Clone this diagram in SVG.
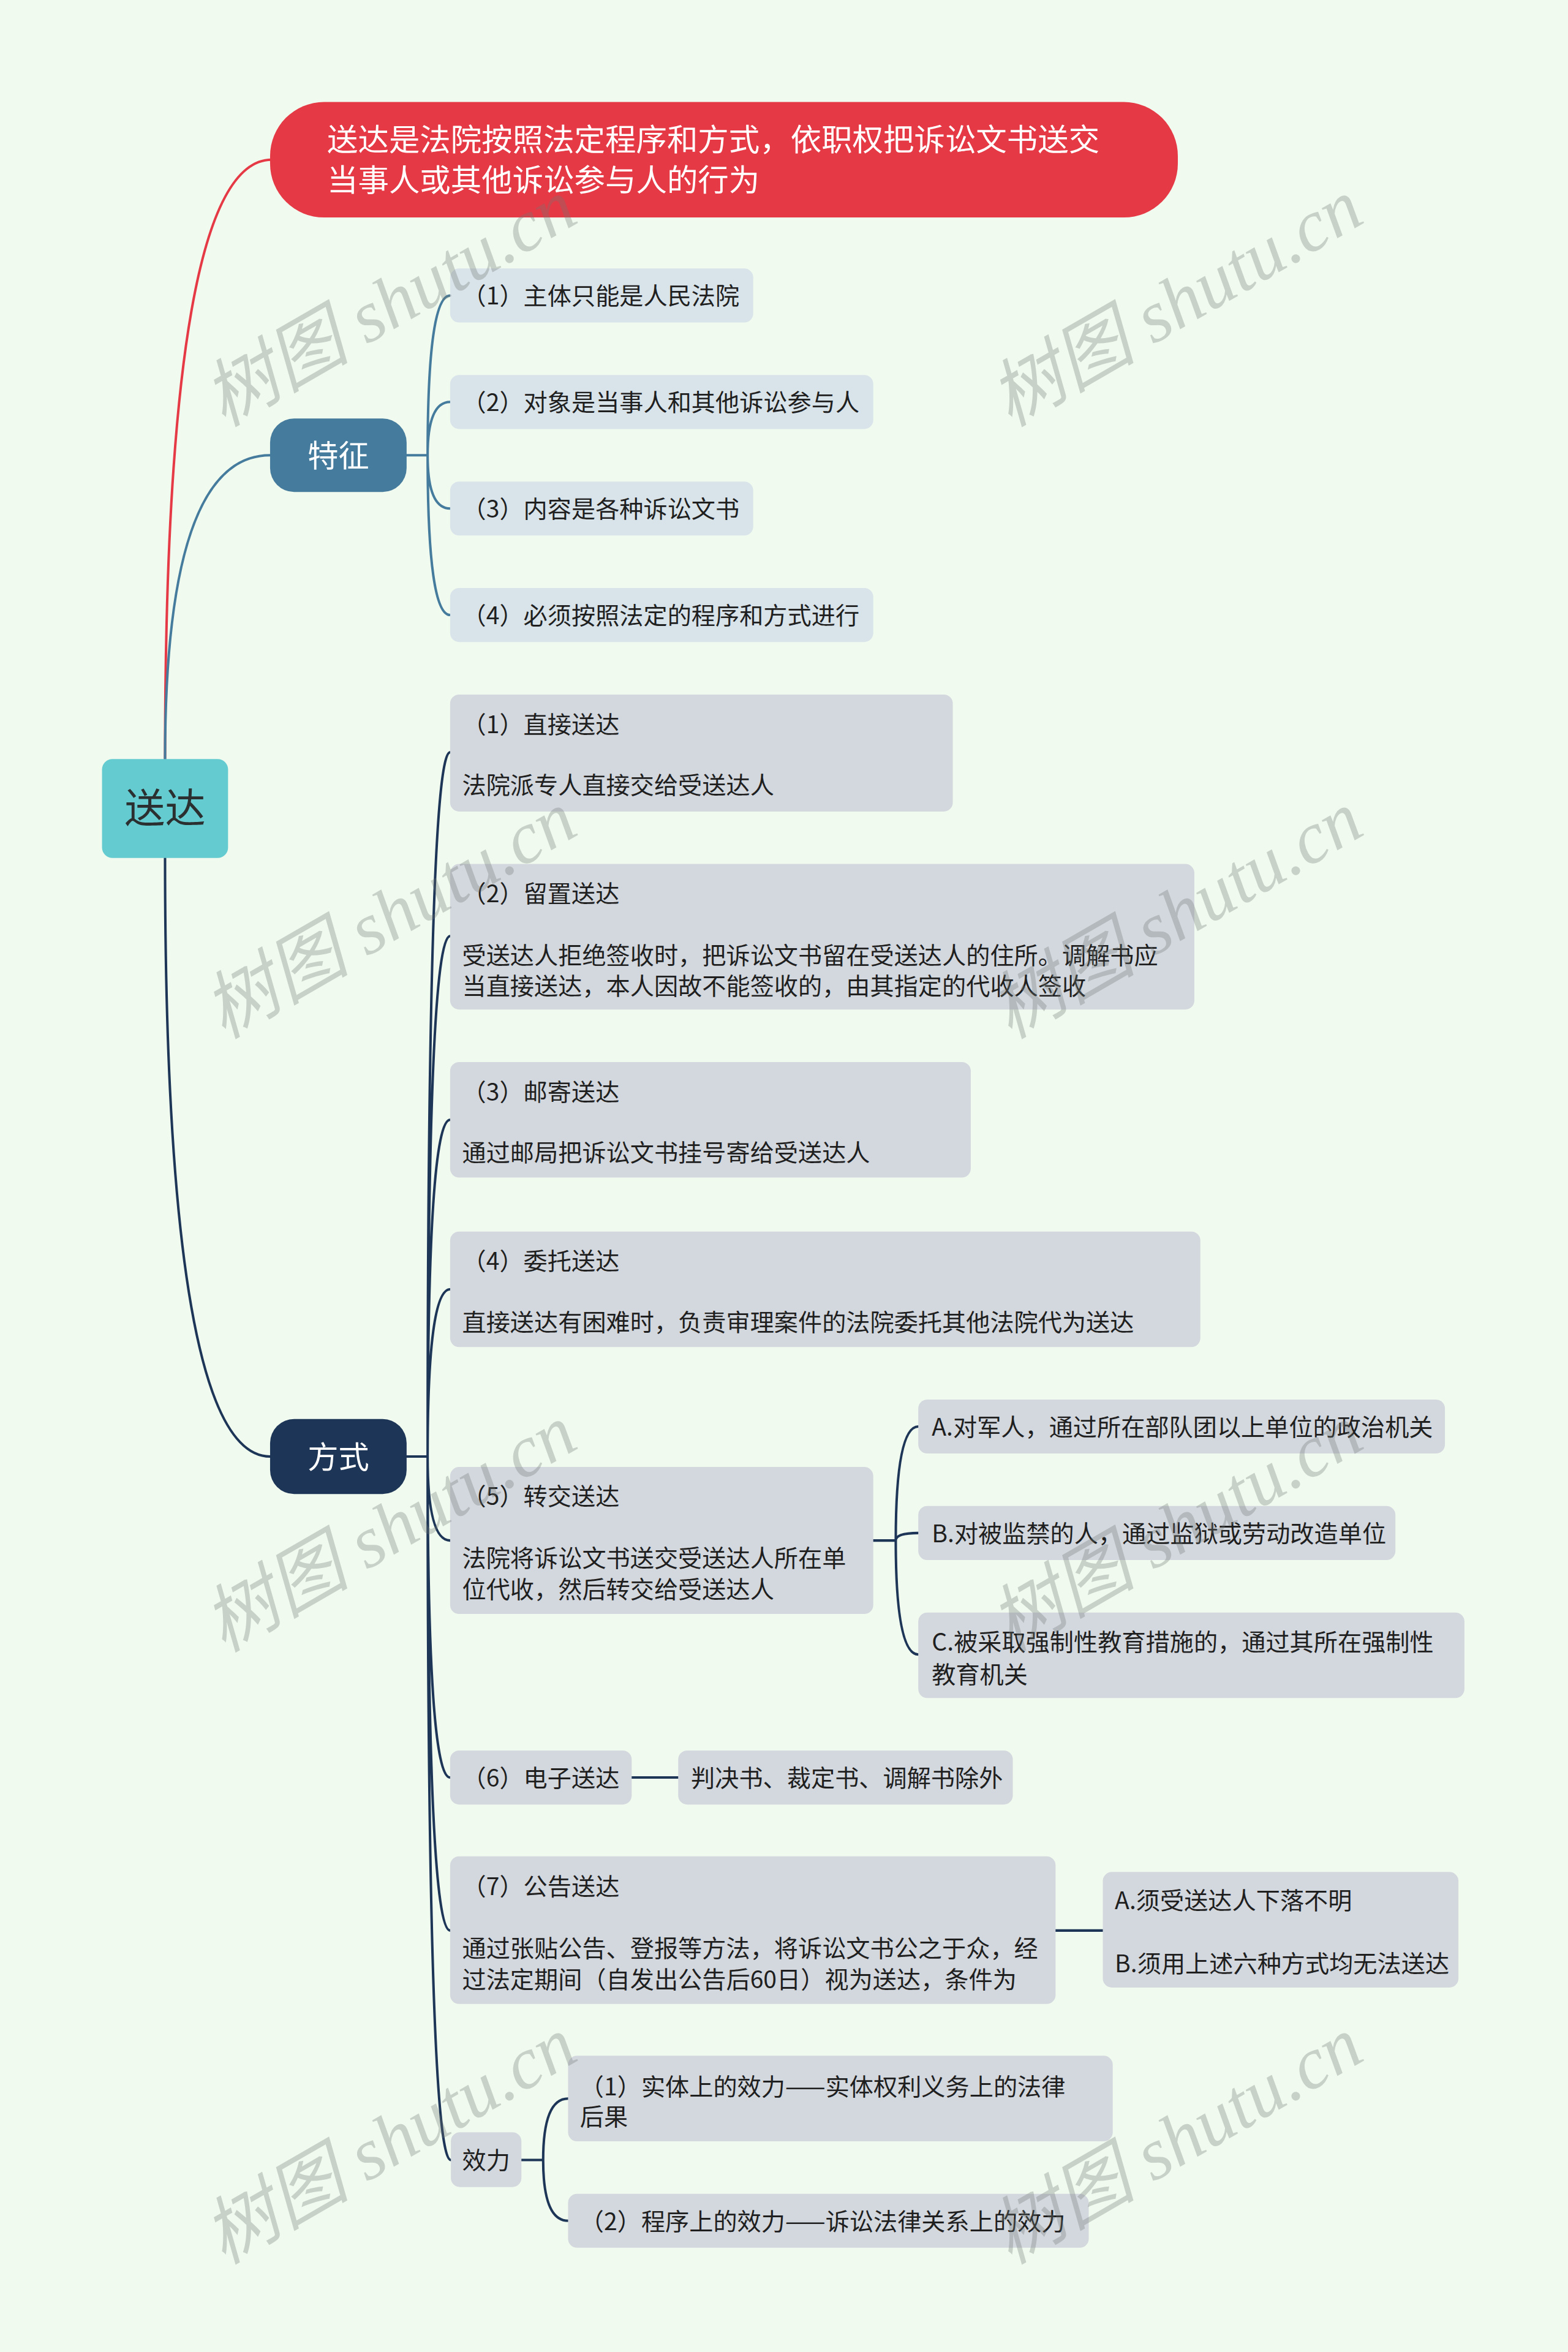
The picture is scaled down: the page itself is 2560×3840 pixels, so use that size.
<svg xmlns="http://www.w3.org/2000/svg" width="2560" height="3840" viewBox="0 0 2560 3840">
<style>
.t{font-family:"Noto Sans CJK SC","Noto Sans",sans-serif;font-size:16px;fill:#1f1f1f}
.big{font-size:20.6px;fill:#ffffff}
.c{fill:none;stroke-width:1.65;stroke-linecap:round}
.cn{stroke:#1d3557}
.cb{stroke:#457b9d}
.cr{stroke:#e63946}
.b1{fill:#d9e3ea}
.b2{fill:#d3d7de}
.wm{font-family:"Liberation Serif","Noto Sans CJK SC",serif;font-style:italic;font-size:49px;fill:#6e7873;opacity:0.31}
</style>
<rect width="2560" height="3840" fill="#f1faee"/>
<g transform="scale(2.4497,2.449)">
<g id="connectors">
<path class="c cr" d="M110 506 Q110 106.5 181 106.5"/>
<path class="c cb" d="M110 506 Q110 303.5 180 303.5"/>
<path class="c cn" d="M110 572 Q110 971 180 971"/>
<path class="c cb" d="M271 303.5 H285 M285 303.5 Q285 197 300 197 M285 303.5 Q285 268 300 268 M285 303.5 Q285 339 300 339 M285 303.5 Q285 410 300 410"/>
<path class="c cn" d="M271 971 H285 M285 971 Q285 501.5 300 501.5 M285 971 Q285 624 300 624 M285 971 Q285 746.5 300 746.5 M285 971 Q285 859.5 300 859.5 M285 971 Q285 1027 300 1027 M285 971 Q285 1185 300 1185 M285 971 Q285 1287 300 1287 M285 971 Q285 1440 300.5 1440"/>
<path class="c cn" d="M582 1027 H597 M597 1027 Q597 951 612 951 M597 1027 Q597 1022 612 1022 M597 1027 Q597 1103 612 1103"/>
<path class="c cn" d="M421 1185 H452"/>
<path class="c cn" d="M703.5 1287 H735"/>
<path class="c cn" d="M347.5 1440 H362 M362 1440 Q362 1399 378.6 1399 M362 1440 Q362 1480.5 378.6 1480.5"/>
</g>
<g id="node-root"><rect x="68" y="506" width="84" height="66" rx="7" fill="#64cbd0"/><text class="t" x="110" y="548.3" text-anchor="middle" style="font-size:27px;fill:#2b2f30">送达</text></g>
<g id="node-definition"><rect x="180" y="68" width="605" height="77" rx="36" fill="#e63946"/><text class="t big" x="218" y="100.5">送达是法院按照法定程序和方式，依职权把诉讼文书送交</text><text class="t big" x="218" y="127.4">当事人或其他诉讼参与人的行为</text></g>
<g id="node-features"><rect x="180" y="279" width="91" height="49" rx="16" fill="#457b9d"/><text class="t big" x="225.5" y="311.3" text-anchor="middle" style="font-size:20.5px">特征</text></g>
<g id="node-f1"><rect class="b1" x="300" y="179" width="202" height="36" rx="6"/><text class="t" x="308" y="203.1">（1）主体只能是人民法院</text></g>
<g id="node-f2"><rect class="b1" x="300" y="250" width="282" height="36" rx="6"/><text class="t" x="308" y="274.1">（2）对象是当事人和其他诉讼参与人</text></g>
<g id="node-f3"><rect class="b1" x="300" y="321" width="202" height="36" rx="6"/><text class="t" x="308" y="345.1">（3）内容是各种诉讼文书</text></g>
<g id="node-f4"><rect class="b1" x="300" y="392" width="282" height="36" rx="6"/><text class="t" x="308" y="416.1">（4）必须按照法定的程序和方式进行</text></g>
<g id="node-methods"><rect x="180" y="946" width="91" height="50" rx="16" fill="#1d3557"/><text class="t big" x="225.5" y="978.8" text-anchor="middle" style="font-size:20.5px">方式</text></g>
<g id="node-m1"><rect class="b2" x="300" y="463" width="335" height="78" rx="6"/><text class="t" x="308"><tspan x="308" y="488.6">（1）直接送达</tspan><tspan x="308" y="529.1">法院派专人直接交给受送达人</tspan></text></g>
<g id="node-m2"><rect class="b2" x="300" y="576" width="496" height="97" rx="6"/><text class="t" x="308"><tspan x="308" y="601.6">（2）留置送达</tspan><tspan x="308" y="642.6">受送达人拒绝签收时，把诉讼文书留在受送达人的住所。调解书应</tspan><tspan x="308" y="663.1">当直接送达，本人因故不能签收的，由其指定的代收人签收</tspan></text></g>
<g id="node-m3"><rect class="b2" x="300" y="708" width="347" height="77" rx="6"/><text class="t" x="308"><tspan x="308" y="733.6">（3）邮寄送达</tspan><tspan x="308" y="774.1">通过邮局把诉讼文书挂号寄给受送达人</tspan></text></g>
<g id="node-m4"><rect class="b2" x="300" y="821" width="500" height="77" rx="6"/><text class="t" x="308"><tspan x="308" y="846.6">（4）委托送达</tspan><tspan x="308" y="887.1">直接送达有困难时，负责审理案件的法院委托其他法院代为送达</tspan></text></g>
<g id="node-m5"><rect class="b2" x="300" y="978" width="282" height="98" rx="6"/><text class="t" x="308"><tspan x="308" y="1003.1">（5）转交送达</tspan><tspan x="308" y="1044.6">法院将诉讼文书送交受送达人所在单</tspan><tspan x="308" y="1065.4">位代收，然后转交给受送达人</tspan></text></g>
<g id="node-m5a"><rect class="b2" x="612" y="933" width="351" height="36" rx="6"/><text class="t" x="621" y="957.1">A.对军人，通过所在部队团以上单位的政治机关</text></g>
<g id="node-m5b"><rect class="b2" x="612" y="1004" width="318" height="36" rx="6"/><text class="t" x="621" y="1028.1">B.对被监禁的人，通过监狱或劳动改造单位</text></g>
<g id="node-m5c"><rect class="b2" x="612" y="1075" width="364" height="57" rx="6"/><text class="t" x="621"><tspan x="621" y="1100.5">C.被采取强制性教育措施的，通过其所在强制性</tspan><tspan x="621" y="1122.1">教育机关</tspan></text></g>
<g id="node-m6"><rect class="b2" x="300" y="1167" width="121" height="36" rx="6"/><text class="t" x="308" y="1191.1">（6）电子送达</text></g>
<g id="node-m6a"><rect class="b2" x="452" y="1167" width="223" height="36" rx="6"/><text class="t" x="460.5" y="1191.1">判决书、裁定书、调解书除外</text></g>
<g id="node-m7"><rect class="b2" x="300" y="1237.5" width="403.5" height="98.5" rx="6"/><text class="t" x="308"><tspan x="308" y="1263.4">（7）公告送达</tspan><tspan x="308" y="1304.8">通过张贴公告、登报等方法，将诉讼文书公之于众，经</tspan><tspan x="308" y="1325.6">过法定期间（自发出公告后60日）视为送达，条件为</tspan></text></g>
<g id="node-m7a"><rect class="b2" x="735" y="1248" width="237" height="77" rx="6"/><text class="t" x="743"><tspan x="743" y="1272.6">A.须受送达人下落不明</tspan><tspan x="743" y="1314.8">B.须用上述六种方式均无法送达</tspan></text></g>
<g id="node-effect"><rect class="b2" x="300.5" y="1421.5" width="47" height="36.5" rx="6"/><text class="t" x="324" y="1446.1" text-anchor="middle">效力</text></g>
<g id="node-e1"><rect class="b2" x="378.6" y="1370.5" width="363" height="57" rx="6"/><text class="t" x="386.5"><tspan x="386.5" y="1396.7">（1）实体上的效力——实体权利义务上的法律</tspan><tspan x="386.5" y="1417.1">后果</tspan></text></g>
<g id="node-e2"><rect class="b2" x="378.6" y="1462.5" width="347" height="36" rx="6"/><text class="t" x="386.5" y="1486.6">（2）程序上的效力——诉讼法律关系上的效力</text></g>
<g id="watermarks">
<text class="wm" transform="translate(149 285) rotate(-30)">树图 shutu.cn</text>
<text class="wm" transform="translate(673 285) rotate(-30)">树图 shutu.cn</text>
<text class="wm" transform="translate(149 693) rotate(-30)">树图 shutu.cn</text>
<text class="wm" transform="translate(673 693) rotate(-30)">树图 shutu.cn</text>
<text class="wm" transform="translate(149 1102) rotate(-30)">树图 shutu.cn</text>
<text class="wm" transform="translate(673 1102) rotate(-30)">树图 shutu.cn</text>
<text class="wm" transform="translate(149 1510) rotate(-30)">树图 shutu.cn</text>
<text class="wm" transform="translate(673 1510) rotate(-30)">树图 shutu.cn</text>
</g>
</g>
</svg>
